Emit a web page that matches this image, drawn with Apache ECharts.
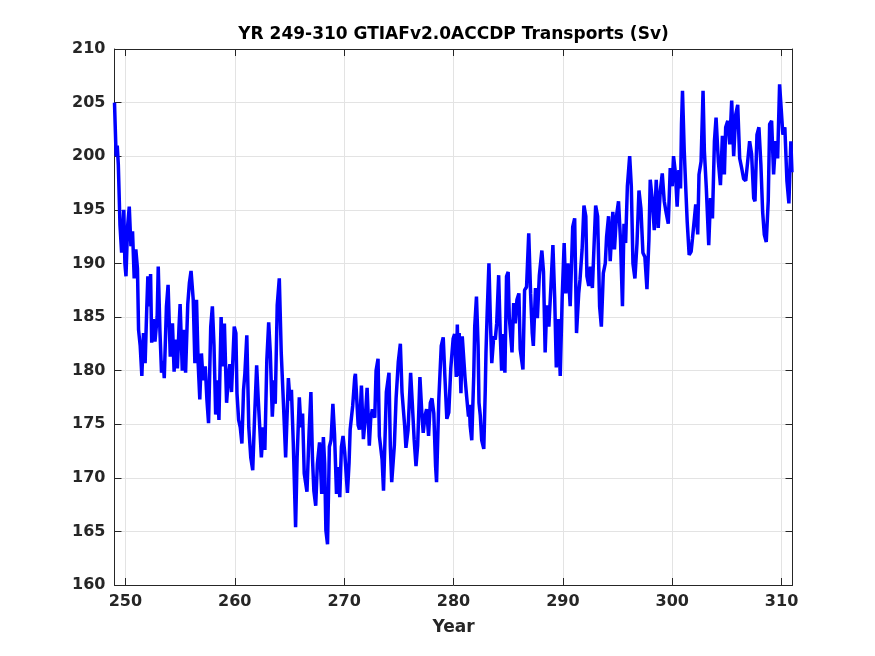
<!DOCTYPE html>
<html>
<head>
<meta charset="utf-8">
<script src="https://cdn.jsdelivr.net/npm/echarts@6/dist/echarts.min.js"></script>
<style>
    html, body { margin: 0; padding: 0; background: #fff; }
    #chart { width: 875px; height: 656px; }
</style>
</head>
<body>
<div id="chart"></div>
<script>
    // time (model years) and transport (Sv)
    var years = [
        249.00, 249.05, 249.15, 249.25, 249.35, 249.50, 249.65, 249.85, 249.95,
        250.05, 250.20, 250.35, 250.50, 250.65, 250.80, 250.95, 251.10, 251.20, 251.35, 251.50, 251.65, 251.80, 251.95,
        252.05, 252.20, 252.30, 252.40, 252.55, 252.70, 252.90, 253.00, 253.15, 253.30, 253.45, 253.55, 253.75, 253.90,
        254.10, 254.30, 254.45, 254.60, 254.75, 254.90, 255.00, 255.20, 255.35, 255.50, 255.70, 255.85,
        256.00, 256.20, 256.35, 256.50, 256.65, 256.80, 256.95, 257.10, 257.30, 257.45, 257.60, 257.80, 257.95,
        258.10, 258.25, 258.40, 258.55, 258.75, 258.90, 259.05, 259.25, 259.45, 259.55, 259.70, 259.95,
        260.10, 260.20, 260.35, 260.50, 260.65, 260.80, 260.92, 261.10, 261.28, 261.46, 261.64, 261.80,
        262.00, 262.15, 262.43, 262.60, 262.75, 262.93, 263.10, 263.25, 263.43, 263.60, 263.70, 263.88,
        264.07, 264.25, 264.45, 264.65, 264.90, 265.05, 265.18, 265.35, 265.56, 265.70, 265.90,
        266.05, 266.20, 266.35, 266.60, 266.80, 266.96, 267.10, 267.23, 267.40, 267.55, 267.75, 267.95,
        268.10, 268.22, 268.33, 268.48, 268.65, 268.80, 268.97, 269.12, 269.30, 269.45, 269.60, 269.75, 269.90,
        270.05, 270.30, 270.45, 270.55, 270.78, 270.97, 271.03, 271.28, 271.40, 271.58, 271.76, 271.93,
        272.10, 272.30, 272.43, 272.58, 272.80, 272.92, 273.10, 273.22, 273.47, 273.60, 273.86,
        274.10, 274.22, 274.35, 274.59, 274.75, 274.95, 275.14, 275.29, 275.53, 275.65, 275.84,
        276.08, 276.23, 276.40, 276.57, 276.72, 276.93, 277.10, 277.23, 277.40, 277.54, 277.72, 277.88,
        278.03, 278.20, 278.36, 278.45, 278.66, 278.88, 279.06, 279.21, 279.39, 279.57, 279.75, 279.97,
        280.10, 280.25, 280.35, 280.45, 280.52, 280.68, 280.80, 280.90, 281.05, 281.20, 281.37, 281.45, 281.52, 281.67, 281.85, 281.94,
        282.10, 282.25, 282.33, 282.45, 282.58, 282.77, 282.90, 282.97, 283.08, 283.24, 283.38, 283.50, 283.68, 283.82, 283.95,
        284.13, 284.28, 284.40, 284.55, 284.70, 284.85, 285.00, 285.10, 285.35, 285.50, 285.65, 285.80, 285.98,
        286.10, 286.35, 286.50, 286.68, 286.88, 287.05, 287.20, 287.30, 287.50, 287.67, 287.85,
        288.08, 288.23, 288.38, 288.53, 288.72, 288.90, 289.09, 289.25, 289.40, 289.58, 289.76, 289.94,
        290.12, 290.27, 290.46, 290.67, 290.90, 291.08, 291.25, 291.45, 291.57, 291.76, 291.93,
        292.10, 292.20, 292.37, 292.52, 292.70, 292.85, 293.00, 293.18, 293.36, 293.52, 293.70, 293.88,
        294.00, 294.18, 294.33, 294.57, 294.72, 294.90, 295.09, 295.27, 295.45, 295.59, 295.74, 295.90,
        296.11, 296.26, 296.41, 296.59, 296.78, 296.96, 297.14, 297.32, 297.50, 297.69, 297.87, 297.99,
        298.18, 298.36, 298.54, 298.72, 298.91, 299.09, 299.27, 299.45, 299.64, 299.82,
        300.00, 300.12, 300.30, 300.45, 300.61, 300.76, 300.85, 300.94, 301.10, 301.24, 301.37, 301.55, 301.73, 301.85,
        302.03, 302.15, 302.33, 302.45, 302.64, 302.82, 302.94, 303.12, 303.34, 303.50, 303.68, 303.86,
        304.01, 304.22, 304.41, 304.59, 304.77, 304.89, 305.08, 305.26, 305.44, 305.62, 305.81, 305.99,
        306.17, 306.35, 306.53, 306.72, 306.90, 307.08, 307.26, 307.45, 307.57, 307.75, 307.93,
        308.11, 308.27, 308.42, 308.60, 308.78, 308.91, 309.09, 309.27, 309.45, 309.64, 309.82,
        310.00, 310.12, 310.30, 310.49, 310.67, 310.85, 310.95
    ];
    var transport = [
        205.0, 203.3, 200.0, 201.0, 199.2, 193.6, 191.0, 195.0, 190.0,
        188.8, 193.5, 195.3, 191.6, 193.0, 188.6, 191.3, 189.5, 183.8, 182.3, 179.5, 183.5, 180.7, 185.8,
        188.8, 186.0, 189.0, 182.6, 184.8, 182.7, 185.0, 189.7, 183.8, 179.8, 180.9, 179.3, 186.0, 188.0,
        181.3, 184.4, 179.9, 182.9, 180.2, 184.1, 186.2, 180.0, 183.8, 179.8, 186.2, 188.2,
        189.3, 186.6, 180.7, 186.6, 180.7, 177.3, 181.6, 179.1, 180.4, 177.3, 175.1, 184.1, 186.0,
        182.3, 175.9, 179.1, 175.4, 185.0, 180.4, 184.4, 177.0, 179.8, 180.6, 178.0, 184.1,
        183.5, 177.9, 175.4, 174.7, 173.2, 178.2, 179.7, 183.3, 174.7, 171.9, 170.7, 175.4,
        180.5, 177.2, 171.9, 174.7, 172.6, 181.0, 184.5, 181.6, 175.7, 179.1, 176.9, 186.1,
        188.6, 181.6, 176.9, 171.9, 179.3, 177.2, 178.2, 173.2, 165.4, 171.9, 177.5,
        174.7, 176.0, 170.4, 168.7, 174.4, 178.0, 171.9, 168.8, 167.4, 171.3, 173.3, 168.5,
        173.8, 171.3, 165.1, 163.8, 172.9, 173.5, 176.9, 174.1, 168.5, 171.0, 168.2, 172.9, 173.9,
        172.4, 168.6, 171.4, 174.5, 176.7, 179.4, 179.7, 174.9, 174.5, 178.6, 173.6, 175.5,
        178.4, 173.0, 175.5, 176.4, 175.6, 180.0, 181.1, 173.9, 171.7, 168.8, 178.0,
        179.8, 173.0, 169.6, 173.0, 177.4, 180.8, 182.5, 178.0, 174.9, 172.8, 174.4,
        179.8, 177.0, 173.6, 171.1, 173.0, 179.4, 176.1, 174.2, 175.8, 176.4, 173.9, 177.0,
        177.4, 176.0, 171.1, 169.6, 177.4, 182.3, 183.1, 179.5, 175.5, 176.1, 180.2, 183.0,
        183.4, 179.4, 184.3, 179.5, 183.5, 177.9, 183.2, 183.3, 179.4, 177.6, 175.7, 176.8, 174.9, 173.5, 179.5, 184.1,
        186.9, 182.3, 177.0, 175.8, 173.5, 172.7, 178.0, 181.7, 185.4, 190.0, 184.4, 180.7, 183.2, 182.9, 184.4,
        188.9, 183.2, 180.0, 183.4, 179.8, 188.8, 189.2, 185.0, 181.7, 186.3, 184.4, 186.6, 187.2,
        182.0, 180.1, 187.5, 187.8, 192.8, 187.2, 183.5, 182.3, 187.7, 184.9, 188.9,
        191.2, 189.2, 181.7, 186.1, 184.1, 187.7, 191.7, 186.9, 180.3, 184.8, 179.5, 186.9,
        191.9, 187.2, 190.0, 186.0, 193.4, 194.2, 183.5, 187.2, 188.5, 191.3, 195.4,
        194.4, 188.8, 187.9, 189.7, 187.7, 191.6, 195.4, 194.4, 186.0, 184.1, 189.1, 190.0,
        192.5, 194.4, 190.2, 194.8, 191.3, 194.4, 195.8, 192.2, 186.0, 193.7, 191.9, 197.2,
        200.0, 197.2, 190.0, 188.6, 191.9, 196.8, 195.1, 191.0, 190.6, 187.6, 192.2, 197.8,
        195.9, 193.1, 197.8, 193.3, 196.8, 198.4, 195.8, 194.7, 193.7, 198.9,
        197.2, 200.0, 198.4, 195.3, 198.7, 197.0, 203.0, 206.1, 200.5, 197.0, 193.9, 190.8, 191.1, 192.3,
        194.2, 195.5, 192.7, 198.3, 199.5, 206.1, 200.5, 197.0, 191.7, 196.1, 194.2, 201.4,
        203.6, 199.5, 197.3, 201.9, 198.3, 202.7, 203.3, 201.1, 205.2, 200.0, 203.9, 204.8,
        199.8, 198.9, 197.9, 197.7, 199.5, 201.4, 200.2, 196.1, 195.8, 202.0, 202.7,
        199.2, 194.8, 192.7, 192.0, 195.8, 203.0, 203.3, 198.3, 201.4, 199.8, 206.7,
        206.7, 202.0, 202.7, 197.7, 195.6, 201.4, 198.5
    ];
    var xTicks = [250, 260, 270, 280, 290, 300, 310];

    var titleText = 'YR 249-310 GTIAFv2.0ACCDP Transports (Sv)';
    var axisColor = '#262626';
    var gridColor = '#e3e3e3';
    var fontFam = '"DejaVu Sans", "Liberation Sans", sans-serif';

    var points = years.map(function (y, i) { return [y, transport[i]]; });

    var myChart = echarts.init(document.getElementById('chart'), null, { renderer: 'canvas' });

    var tickLabel = {
        color: axisColor,
        fontFamily: fontFam,
        fontWeight: 'bold',
        fontSize: 16
    };

    var option = {
        animation: false,
        backgroundColor: '#ffffff',
        grid: {
            left: 114.5,
            right: 82.5,
            top: 49,
            bottom: 71
        },
        graphic: [{
            type: 'text',
            x: 453.5,
            y: 35,
            style: {
                text: titleText,
                textAlign: 'center',
                textVerticalAlign: 'middle',
                font: 'bold 17px ' + fontFam,
                fill: '#000000'
            }
        }],
        xAxis: [{
            type: 'value',
            min: 249,
            max: 311,
            position: 'bottom',
            name: 'Year',
            nameLocation: 'middle',
            nameGap: 34,
            nameTextStyle: {
                color: axisColor,
                fontFamily: fontFam,
                fontWeight: 'bold',
                fontSize: 17
            },
            axisLine: { show: true, onZero: false, lineStyle: { color: axisColor, width: 1 } },
            axisTick: { show: true, inside: true, length: 7, customValues: xTicks, lineStyle: { color: axisColor } },
            axisLabel: Object.assign({ margin: 9, customValues: xTicks }, tickLabel),
            splitLine: { show: true, lineStyle: { color: gridColor, width: 1 } }
        }, {
            type: 'value',
            min: 249,
            max: 311,
            position: 'top',
            axisLine: { show: true, onZero: false, lineStyle: { color: axisColor, width: 1 } },
            axisTick: { show: true, inside: true, length: 7, customValues: xTicks, lineStyle: { color: axisColor } },
            axisLabel: { show: false },
            splitLine: { show: false }
        }],
        yAxis: [{
            type: 'value',
            min: 160,
            max: 210,
            interval: 5,
            position: 'left',
            axisLine: { show: true, onZero: false, lineStyle: { color: axisColor, width: 1 } },
            axisTick: { show: true, inside: true, length: 7, lineStyle: { color: axisColor } },
            axisLabel: Object.assign({ margin: 9 }, tickLabel),
            splitLine: { show: true, lineStyle: { color: gridColor, width: 1 } }
        }, {
            type: 'value',
            min: 160,
            max: 210,
            interval: 5,
            position: 'right',
            axisLine: { show: true, onZero: false, lineStyle: { color: axisColor, width: 1 } },
            axisTick: { show: true, inside: true, length: 7, lineStyle: { color: axisColor } },
            axisLabel: { show: false },
            splitLine: { show: false }
        }],
        series: [{
            type: 'line',
            xAxisIndex: 0,
            yAxisIndex: 0,
            data: points,
            showSymbol: false,
            symbol: 'none',
            clip: true,
            lineStyle: { color: '#0000ff', width: 3.5, join: 'bevel' }
        }]
    };

    myChart.setOption(option);
</script>
</body>
</html>
